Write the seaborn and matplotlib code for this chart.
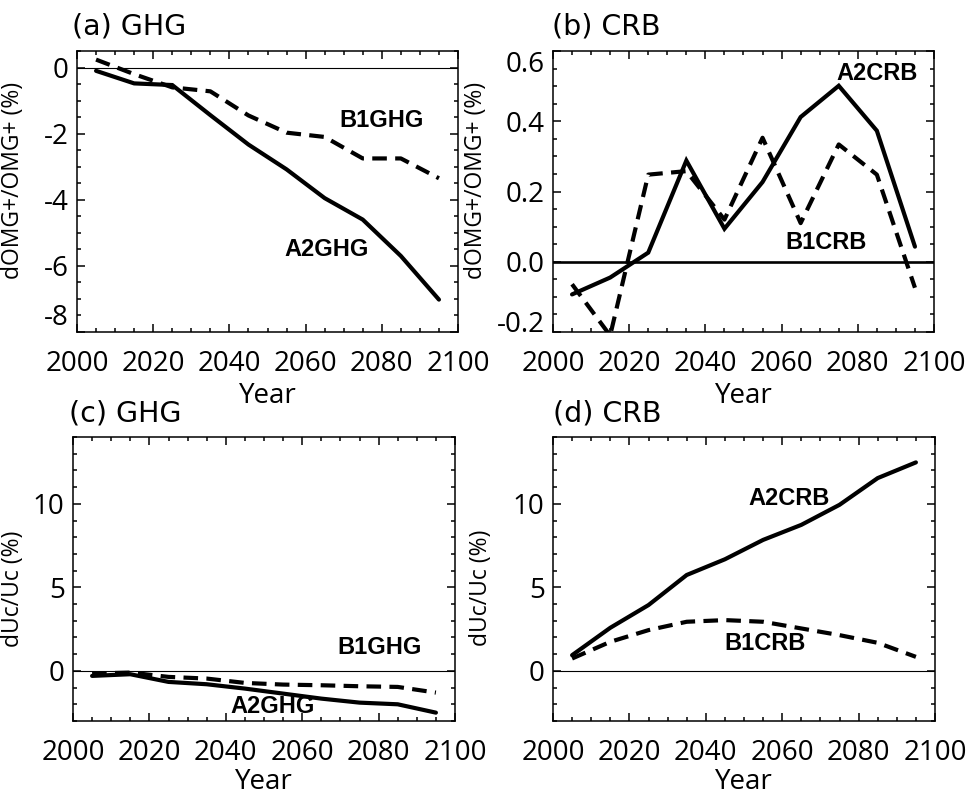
import numpy as np
import pandas as pd
import matplotlib
matplotlib.use("Agg")
import matplotlib.pyplot as plt
from matplotlib.ticker import MultipleLocator, FixedLocator
import seaborn as sns

# ---- data -------------------------------------------------------------
years = [2005, 2015, 2025, 2035, 2045, 2055, 2065, 2075, 2085, 2095]

# (a) relative change of OMG+ under greenhouse-gas forcing (%)
omg_a2ghg = [-0.10, -0.48, -0.53, -1.44, -2.33, -3.08, -3.95, -4.60, -5.70, -7.02]
omg_b1ghg = [0.24, -0.20, -0.60, -0.72, -1.45, -1.97, -2.10, -2.75, -2.75, -3.35]

# (b) relative change of OMG+ under cloud-radiation forcing (%)
omg_a2crb = [-0.093, -0.045, 0.026, 0.288, 0.094, 0.227, 0.412, 0.501, 0.373, 0.043]
omg_b1crb = [-0.064, -0.210, 0.248, 0.258, 0.120, 0.353, 0.110, 0.334, 0.248, -0.074]

# (c) relative change of Uc under greenhouse-gas forcing (%)
uc_a2ghg = [-0.30, -0.20, -0.66, -0.80, -1.06, -1.36, -1.66, -1.90, -2.00, -2.50]
uc_b1ghg = [-0.16, -0.10, -0.36, -0.46, -0.72, -0.82, -0.86, -0.92, -0.96, -1.30]

# (d) relative change of Uc under cloud-radiation forcing (%)
uc_a2crb = [0.94, 2.58, 3.94, 5.74, 6.68, 7.84, 8.74, 9.94, 11.54, 12.48]
uc_b1crb = [0.74, 1.74, 2.44, 2.94, 3.04, 2.94, 2.54, 2.14, 1.68, 0.84]

panel_titles = ["(a) GHG", "(b) CRB", "(c) GHG", "(d) CRB"]
ylabels = ["dOMG+/OMG+ (%)", "dOMG+/OMG+ (%)", "dUc/Uc (%)", "dUc/Uc (%)"]
xticks = [2000, 2020, 2040, 2060, 2080, 2100]

# ---- style ------------------------------------------------------------
sns.set_theme(style="ticks")
plt.rcParams["font.family"] = ["Open Sans", "DejaVu Sans"]
plt.rcParams["axes.unicode_minus"] = False

W, H = 970, 796
fig = plt.figure(figsize=(W / 100, H / 100), dpi=100)
fig.patch.set_facecolor("white")


def px_axes(left, top, right, bottom):
    return fig.add_axes([left / W, 1 - bottom / H, (right - left) / W, (bottom - top) / H])


ax_a = px_axes(77, 51, 458, 332)
ax_b = px_axes(553, 51, 934, 332)
ax_c = px_axes(73, 437, 455, 721)
ax_d = px_axes(553, 437, 935, 721)
axes = [ax_a, ax_b, ax_c, ax_d]

LW = 3.0
DASH = (0, (3.5, 2.0))
TICK_FS = 20
LABEL_FS = 16.5
TAG = dict(family=["Liberation Sans", "DejaVu Sans"], weight="bold", fontsize=17,
           ha="center", va="center", color="black")

series = [
    (omg_a2ghg, omg_b1ghg),
    (omg_a2crb, omg_b1crb),
    (uc_a2ghg, uc_b1ghg),
    (uc_a2crb, uc_b1crb),
]

for ax, (solid, dashed) in zip(axes, series):
    df = pd.DataFrame({"year": years, "A2": solid, "B1": dashed})
    sns.lineplot(data=df, x="year", y="A2", ax=ax, color="black", lw=LW,
                 errorbar=None, solid_joinstyle="miter")
    sns.lineplot(data=df, x="year", y="B1", ax=ax, color="black", lw=LW,
                 errorbar=None, linestyle=DASH)

# zero reference lines
ax_a.axhline(0, color="black", lw=0.8, zorder=1)
ax_b.axhline(0, color="black", lw=1.9, zorder=1)
ax_c.axhline(0, color="black", lw=0.8, zorder=1)
ax_d.axhline(0, color="black", lw=0.8, zorder=1)

# axis ranges and ticks
ax_a.set_ylim(-8, 0.5)
ax_a.yaxis.set_major_locator(FixedLocator([0, -2, -4, -6, -8]))
ax_a.yaxis.set_minor_locator(MultipleLocator(0.5))

ax_b.set_ylim(-0.2, 0.6)
ax_b.yaxis.set_minor_locator(MultipleLocator(0.05))
ax_b.set_yticks([-0.2, 0.0, 0.2, 0.4, 0.6], ["-0.2", "0.0", "0.2", "0.4", "0.6"])

for ax in (ax_c, ax_d):
    ax.set_ylim(-3, 14)
    ax.yaxis.set_major_locator(FixedLocator([0, 5, 10]))
    ax.yaxis.set_minor_locator(MultipleLocator(1))

for ax, yl in zip(axes, ylabels):
    ax.set_xlim(2000, 2100)
    ax.set_xticks(xticks)
    ax.xaxis.set_minor_locator(MultipleLocator(5))
    ax.tick_params(which="both", direction="in", top=True, right=True,
                   width=1.1, color="black", labelsize=TICK_FS, labelcolor="black")
    ax.tick_params(axis="x", which="major", length=5.8, pad=13)
    ax.tick_params(axis="y", which="major", length=5.8, pad=6)
    ax.tick_params(which="minor", length=2.9)
    for sp in ax.spines.values():
        sp.set_linewidth(1.1)
        sp.set_color("black")
    ax.set_facecolor("white")
    ax.set_xlabel("Year", fontsize=TICK_FS, color="black")
    ax.set_ylabel(yl, fontsize=LABEL_FS, color="black")

# label placement
ax_a.yaxis.set_label_coords(-0.1365, 0.541)
ax_b.yaxis.set_label_coords(-0.171, 0.541)
ax_c.yaxis.set_label_coords(-0.126, 0.466)
ax_d.yaxis.set_label_coords(-0.157, 0.47)
for ax in (ax_a, ax_b):
    ax.xaxis.set_label_coords(0.5, -0.178)
for ax in (ax_c, ax_d):
    ax.xaxis.set_label_coords(0.5, -0.164)

# keep the tick labels at the axis ends inside the frame
ax_a.get_yticklabels()[-1].set_va("bottom")
ax_b.get_yticklabels()[0].set_va("baseline")
ax_b.get_yticklabels()[-1].set_va("top")

# series tags
ax_a.text(2080, -1.6, "B1GHG", **TAG)
ax_a.text(2065.6, -5.5, "A2GHG", **TAG)
ax_b.text(2085, 0.537, "A2CRB", **TAG)
ax_b.text(2071.7, 0.056, "B1CRB", **TAG)
ax_c.text(2080.3, 1.38, "B1GHG", **TAG)
ax_c.text(2052.2, -2.16, "A2GHG", **TAG)
ax_d.text(2061.7, 10.3, "A2CRB", **TAG)
ax_d.text(2055.5, 1.64, "B1CRB", **TAG)

# panel titles
TITLE = dict(family=["DejaVu Sans"], fontsize=20.5,
             ha="left", va="baseline", color="black")
fig.text(72 / W, 1 - 35 / H, panel_titles[0], **TITLE)
fig.text(552 / W, 1 - 35 / H, panel_titles[1], **TITLE)
fig.text(69 / W, 1 - 421 / H, panel_titles[2], **TITLE)
fig.text(553 / W, 1 - 421 / H, panel_titles[3], **TITLE)

fig.savefig("out.png", dpi=100, facecolor="white")
